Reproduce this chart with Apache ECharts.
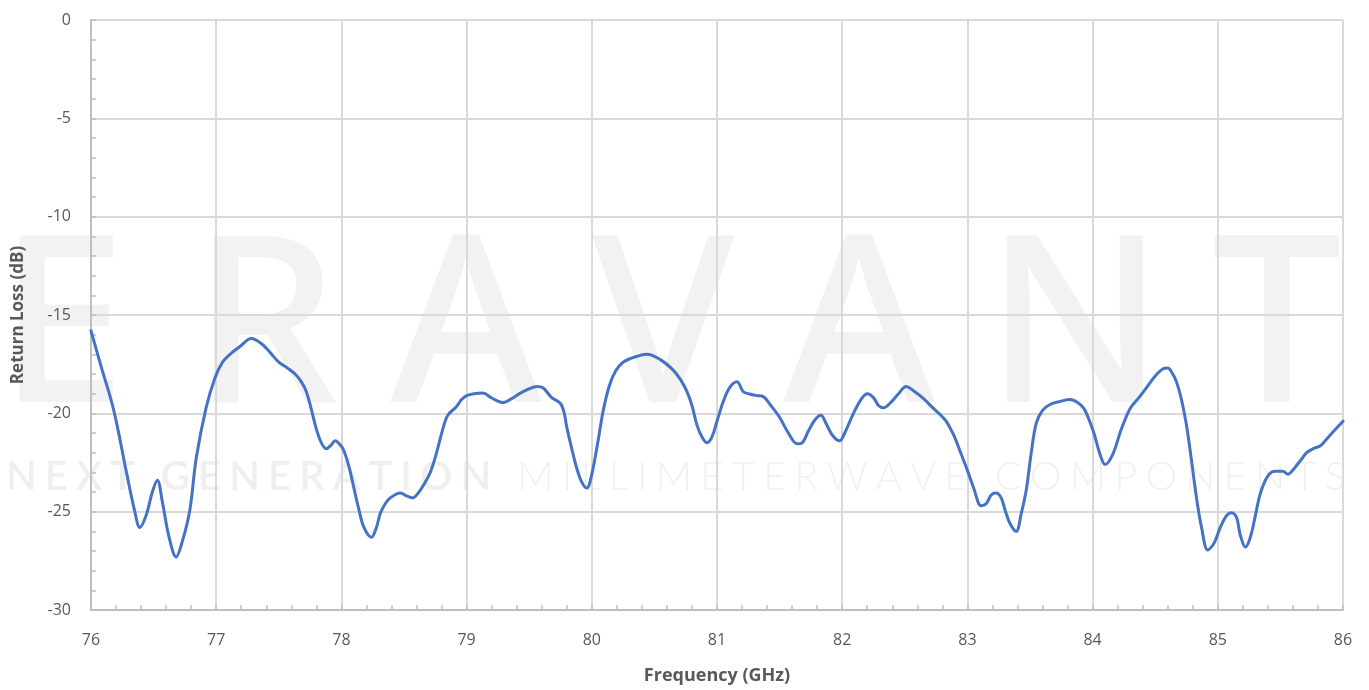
<!DOCTYPE html>
<html>
<head>
<meta charset="utf-8">
<script src="https://cdn.jsdelivr.net/npm/echarts@6/dist/echarts.min.js"></script>
<style>
  html, body { margin: 0; padding: 0; background: #ffffff; }
  #chart { width: 1369px; height: 690px; }
</style>
</head>
<body>
<div id="chart"></div>
<script>
// Measured return loss of the component across the 76–86 GHz band
const freqGHz = [
  76.00, 76.08, 76.18, 76.28, 76.35, 76.39, 76.44, 76.49, 76.53, 76.57,
  76.62, 76.68, 76.73, 76.79, 76.84, 76.92, 76.99, 77.05, 77.11, 77.19,
  77.28, 77.36, 77.43, 77.50, 77.57, 77.63, 77.68, 77.72, 77.76, 77.80,
  77.84, 77.88, 77.92, 77.95, 77.99, 78.02, 78.06, 78.10, 78.14, 78.18,
  78.24, 78.28, 78.31, 78.35, 78.39, 78.47, 78.52, 78.57, 78.62, 78.66,
  78.71, 78.76, 78.81, 78.85, 78.92, 78.96, 79.00, 79.06, 79.13, 79.20,
  79.29, 79.36, 79.43, 79.50, 79.56, 79.61, 79.68, 79.75, 79.78, 79.80,
  79.84, 79.88, 79.92, 79.96, 80.00, 80.05, 80.09, 80.14, 80.19, 80.25,
  80.36, 80.44, 80.55, 80.65, 80.71, 80.76, 80.80, 80.84, 80.88, 80.92,
  80.96, 81.00, 81.05, 81.10, 81.16, 81.21, 81.26, 81.32, 81.37, 81.43,
  81.50, 81.57, 81.64, 81.68, 81.73, 81.78, 81.83, 81.87, 81.92, 81.98,
  82.02, 82.09, 82.15, 82.20, 82.25, 82.29, 82.33, 82.38, 82.45, 82.51,
  82.58, 82.65, 82.72, 82.78, 82.83, 82.89, 82.94, 83.00, 83.05, 83.11,
  83.15, 83.19, 83.23, 83.27, 83.30, 83.34, 83.39, 83.43, 83.47, 83.51,
  83.55, 83.60, 83.66, 83.74, 83.82, 83.88, 83.93, 83.97, 84.01, 84.06,
  84.10, 84.16, 84.23, 84.30, 84.37, 84.43, 84.50, 84.56, 84.60, 84.64,
  84.67, 84.71, 84.75, 84.79, 84.83, 84.87, 84.92, 84.97, 85.02, 85.07,
  85.11, 85.15, 85.18, 85.22, 85.26, 85.30, 85.33, 85.36, 85.41, 85.46,
  85.52, 85.56, 85.61, 85.66, 85.71, 85.76, 85.82, 85.87, 85.92, 86.00
];

const returnLossDb = [
  -15.8, -17.6, -19.8, -22.9, -25.0, -25.8, -25.2, -24.0, -23.4, -24.5,
  -26.2, -27.3, -26.5, -24.9, -22.3, -19.7, -18.2, -17.4, -17.0, -16.6,
  -16.2, -16.45, -16.9, -17.4, -17.7, -18.0, -18.4, -18.9, -19.8, -20.8,
  -21.5, -21.8, -21.6, -21.4, -21.6, -21.9, -22.7, -23.8, -24.9, -25.8,
  -26.3, -25.8, -25.1, -24.6, -24.3, -24.05, -24.2, -24.3, -24.0, -23.6,
  -23.0, -22.0, -20.8, -20.1, -19.65, -19.3, -19.1, -19.0, -18.97, -19.22,
  -19.45, -19.25, -18.97, -18.75, -18.63, -18.7, -19.2, -19.5, -20.0, -20.7,
  -21.8, -22.8, -23.5, -23.8, -23.1, -21.4, -19.9, -18.6, -17.85, -17.4,
  -17.1, -17.0, -17.28, -17.8, -18.3, -18.9, -19.6, -20.6, -21.2, -21.5,
  -21.2, -20.4, -19.4, -18.7, -18.4, -18.9, -19.02, -19.1, -19.15, -19.6,
  -20.2, -21.0, -21.55, -21.5, -20.9, -20.35, -20.1, -20.5, -21.1, -21.4,
  -21.0, -20.0, -19.3, -19.0, -19.2, -19.6, -19.72, -19.5, -19.0, -18.63,
  -18.9, -19.25, -19.7, -20.05, -20.4, -21.1, -21.9, -22.9, -23.8, -24.7,
  -24.6, -24.15, -24.05, -24.3, -24.9, -25.6, -26.0, -25.1, -23.9, -22.0,
  -20.5, -19.85, -19.55, -19.4, -19.3, -19.45, -19.75, -20.3, -21.0, -22.1,
  -22.6, -22.1, -20.8, -19.75, -19.2, -18.7, -18.1, -17.75, -17.7, -18.0,
  -18.4, -19.3, -20.6, -22.4, -24.3, -25.8, -26.95, -26.6, -25.8, -25.2,
  -25.05, -25.3, -26.2, -26.8, -26.3, -25.2, -24.3, -23.7, -23.1, -22.95,
  -22.95, -23.1, -22.8, -22.4, -22.0, -21.8, -21.65, -21.3, -20.95, -20.4
];

// Axis ranges and tick steps
const xRange = [76, 86];
const xStep = 1;
const yRange = [-30, 0];
const yStep = 5;

const xTitle = 'Frequency (GHz)';
const yTitle = 'Return Loss (dB)';

// Background brand mark
const brandWord = ['E', 'R', 'A', 'V', 'A', 'N', 'T'];
const taglineParts = [
  { text: 'NEXT GENERATION ', weight: 600 },
  { text: 'MILLIMETERWAVE COMPONENTS', weight: 300 }
];

const chart = echarts.init(document.getElementById('chart'), null, { renderer: 'canvas' });

// Large letters of the brand word, each centred on its own slot
function brandGraphics() {
  const centres = [62, 265, 466, 663, 859, 1075, 1277];
  return brandWord.map((ch, i) => ({
    type: 'text',
    z: -10,
    silent: true,
    x: centres[i],
    y: 336,
    style: {
      text: ch,
      fill: '#f2f2f2',
      font: 'normal 500 232px "Noto Sans", "Open Sans", sans-serif',
      align: 'center',
      verticalAlign: 'middle'
    }
  }));
}

// Widely tracked tagline spread across the plot width
function taglineGraphics() {
  const size = 40;
  const family = 'Lato, "Open Sans", sans-serif';
  const ctx = document.createElement('canvas').getContext('2d');
  const chars = [];
  taglineParts.forEach(p => {
    for (const c of p.text) {
      ctx.font = `${p.weight} ${size}px ${family}`;
      chars.push({ c, weight: p.weight, w: ctx.measureText(c).width });
    }
  });
  const left = 6, right = 1346;
  const total = chars.reduce((s, o) => s + o.w, 0);
  const gap = (right - left - total) / (chars.length - 1);
  let x = left;
  const out = [];
  chars.forEach(o => {
    if (o.c !== ' ') {
      out.push({
        type: 'text',
        z: -10,
        silent: true,
        x: x,
        y: 477,
        style: {
          text: o.c,
          fill: o.weight > 400 ? '#efefef' : '#f1f1f1',
          font: `${o.weight} ${size}px ${family}`,
          align: 'left',
          verticalAlign: 'middle'
        }
      });
    }
    x += o.w + gap;
  });
  return out;
}

const seriesData = freqGHz.map((f, i) => [f, returnLossDb[i]]);

const labelFont = { color: '#595959', fontSize: 16, fontFamily: '"Open Sans", sans-serif' };

chart.setOption({
  backgroundColor: '#ffffff',
  animation: false,
  graphic: brandGraphics().concat(taglineGraphics()),
  grid: { left: 91, right: 26, top: 20, bottom: 77, containLabel: false },
  xAxis: {
    type: 'value',
    min: xRange[0],
    max: xRange[1],
    interval: xStep,
    name: xTitle,
    nameLocation: 'middle',
    nameGap: 57,
    nameTextStyle: { color: '#595959', fontSize: 18, fontWeight: 'bold', fontFamily: '"Open Sans", sans-serif' },
    axisLine: { show: true, onZero: false, lineStyle: { color: '#bfbfbf', width: 2 } },
    axisTick: { show: true, inside: true, length: 5, lineStyle: { color: '#bfbfbf', width: 1.5 } },
    minorTick: { show: true, splitNumber: 5, length: 5, lineStyle: { color: '#bfbfbf', width: 1.5 } },
    axisLabel: Object.assign({ margin: 22 }, labelFont),
    splitLine: { show: true, lineStyle: { color: '#d9d9d9', width: 2 } }
  },
  yAxis: {
    type: 'value',
    min: yRange[0],
    max: yRange[1],
    interval: yStep,
    name: yTitle,
    nameLocation: 'middle',
    nameRotate: 90,
    nameGap: 64,
    nameTextStyle: { color: '#595959', fontSize: 17, fontWeight: 'bold', fontFamily: '"Open Sans", sans-serif' },
    axisLine: { show: true, onZero: false, lineStyle: { color: '#bfbfbf', width: 2 } },
    axisTick: { show: true, inside: true, length: 5, lineStyle: { color: '#bfbfbf', width: 1.5 } },
    minorTick: { show: true, splitNumber: 5, length: 5, lineStyle: { color: '#bfbfbf', width: 1.5 } },
    axisLabel: Object.assign({ margin: 20 }, labelFont),
    splitLine: { show: true, lineStyle: { color: '#d9d9d9', width: 2 } }
  },
  series: [{
    type: 'line',
    data: seriesData,
    smooth: 0.35,
    showSymbol: false,
    symbol: 'none',
    lineStyle: { color: '#4472c4', width: 3, cap: 'round', join: 'round' },
    z: 5
  }]
});
</script>
</body>
</html>
